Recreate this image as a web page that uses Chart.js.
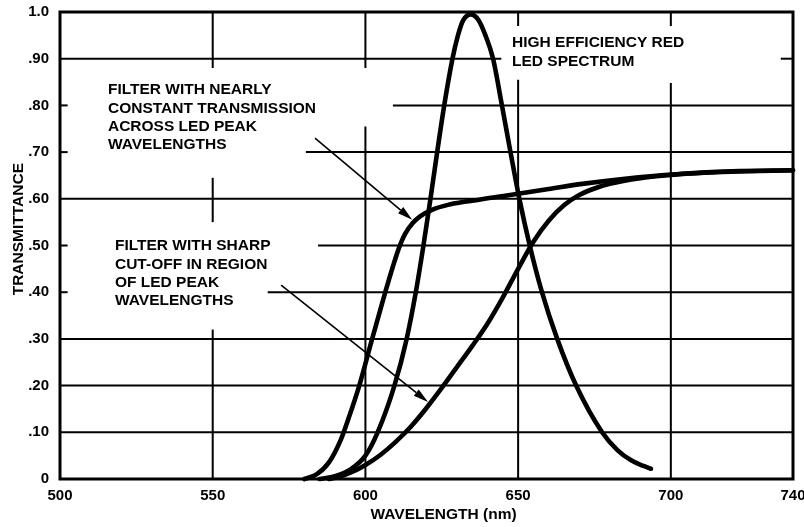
<!DOCTYPE html>
<html>
<head>
<meta charset="utf-8">
<script src="https://cdn.jsdelivr.net/npm/chart.js@4.4.1/dist/chart.umd.min.js"></script>
<style>
  html, body { margin: 0; padding: 0; background: #fff; }
  #wrap { width: 804px; height: 527px; }
</style>
</head>
<body>
<div id="wrap"><canvas id="spectrum" width="804" height="527"></canvas></div>
<script>
// readings: wavelength in nm, transmittance 0..1
const ledX = [585, 590, 595, 600, 604, 609.5, 613.5, 616.5, 619, 621.3, 623.5, 625.8, 628.5, 630.3, 632, 634.5, 637, 639.3, 641.8, 644.7, 647.5, 650.4, 653.8, 657.8, 662.8, 669, 677.5, 682.5, 687, 691, 693.5];
const ledY = [0, 0.006, 0.02, 0.05, 0.1, 0.2, 0.3, 0.4, 0.5, 0.6, 0.7, 0.8, 0.9, 0.95, 0.982, 0.995, 0.983, 0.95, 0.9, 0.8, 0.7, 0.6, 0.5, 0.4, 0.3, 0.2, 0.1, 0.062, 0.04, 0.028, 0.022];

const flatX = [580, 584, 588, 592, 595, 598, 602.2, 606.5, 609, 611, 613, 615.5, 618, 622, 627, 633, 640, 650, 660, 671, 685, 700, 720, 740];
const flatY = [0, 0.01, 0.035, 0.085, 0.14, 0.2, 0.3, 0.4, 0.455, 0.495, 0.525, 0.548, 0.563, 0.577, 0.587, 0.594, 0.601, 0.611, 0.621, 0.632, 0.643, 0.652, 0.658, 0.661];

const sharpX = [588, 592, 596, 600, 605, 610, 615, 620, 625, 630, 635, 640, 645, 650, 655, 660, 665, 670, 675, 680, 690, 700, 710, 720, 740];
const sharpY = [0, 0.006, 0.016, 0.03, 0.052, 0.08, 0.113, 0.152, 0.195, 0.24, 0.285, 0.333, 0.389, 0.45, 0.508, 0.553, 0.586, 0.608, 0.622, 0.632, 0.644, 0.651, 0.656, 0.659, 0.661];

const xTicks = [500, 550, 600, 650, 700, 740];
const yTickLabels = ["0", ".10", ".20", ".30", ".40", ".50", ".60", ".70", ".80", ".90", "1.0"];

// grid is broken around the notes, as on the original sheet: [value, from, to]
const hGrid = [
  [0.1, 500, 740], [0.2, 500, 740], [0.3, 500, 740],
  [0.4, 500, 502.5], [0.4, 568, 740],
  [0.5, 500, 502.5], [0.5, 584.5, 740],
  [0.6, 500, 740],
  [0.7, 500, 502.5], [0.7, 580.5, 740],
  [0.8, 500, 502.5], [0.8, 609, 740],
  [0.9, 500, 644.5], [0.9, 736, 740]
];
const vGrid = [
  [550, 0.88, 1], [550, 0.55, 0.645], [550, 0, 0.32],
  [600, 0.88, 1], [600, 0, 0.755],
  [650, 0.97, 1], [650, 0, 0.855],
  [700, 0.97, 1], [700, 0, 0.848]
];

const notes = [
  { x: 515.7, y: 0.824, lines: ["FILTER WITH NEARLY", "CONSTANT TRANSMISSION", "ACROSS LED PEAK", "WAVELENGTHS"] },
  { x: 518, y: 0.49, lines: ["FILTER WITH SHARP", "CUT-OFF IN REGION", "OF LED PEAK", "WAVELENGTHS"] },
  { x: 648, y: 0.924, lines: ["HIGH EFFICIENCY RED", "LED SPECTRUM"] }
];
const arrows = [
  { from: [583.5, 0.73], to: [615.3, 0.555] },
  { from: [572.4, 0.415], to: [620.5, 0.165] }
];

const FAMILY = "'Liberation Sans', Arial, sans-serif";
const FONT = "bold 15.5px " + FAMILY;

const toPts = (xs, ys) => xs.map((x, i) => ({ x: x, y: ys[i] }));

function seg(ctx, x1, y1, x2, y2) {
  ctx.beginPath();
  ctx.moveTo(x1, y1);
  ctx.lineTo(x2, y2);
  ctx.stroke();
}

const paper = {
  id: "paper",
  beforeDatasetsDraw(chart) {
    const { ctx, chartArea: a } = chart;
    const x = chart.scales.x, y = chart.scales.y;
    ctx.save();
    ctx.strokeStyle = "#000";
    ctx.lineWidth = 2;
    hGrid.forEach(([v, p, q]) => {
      const py = y.getPixelForValue(v);
      seg(ctx, x.getPixelForValue(p), py, x.getPixelForValue(q), py);
    });
    vGrid.forEach(([v, p, q]) => {
      const px = x.getPixelForValue(v);
      seg(ctx, px, y.getPixelForValue(p), px, y.getPixelForValue(q));
    });
    ctx.lineWidth = 3;
    ctx.strokeRect(a.left, a.top, a.right - a.left, a.bottom - a.top);
    ctx.restore();
  },
  afterDatasetsDraw(chart) {
    const { ctx, chartArea: a } = chart;
    const x = chart.scales.x, y = chart.scales.y;
    ctx.save();
    ctx.fillStyle = "#000";
    ctx.strokeStyle = "#000";
    ctx.font = FONT;
    ctx.textBaseline = "alphabetic";
    ctx.textAlign = "left";
    notes.forEach(n => {
      const px = x.getPixelForValue(n.x), py = y.getPixelForValue(n.y);
      n.lines.forEach((t, i) => ctx.fillText(t, px, py + i * 18.4));
    });

    ctx.lineWidth = 1.6;
    arrows.forEach(ar => {
      const x1 = x.getPixelForValue(ar.from[0]), y1 = y.getPixelForValue(ar.from[1]);
      const x2 = x.getPixelForValue(ar.to[0]), y2 = y.getPixelForValue(ar.to[1]);
      const ang = Math.atan2(y2 - y1, x2 - x1);
      const len = 15, half = 4;
      const bx = x2 - len * Math.cos(ang), by = y2 - len * Math.sin(ang);
      seg(ctx, x1, y1, bx, by);
      ctx.beginPath();
      ctx.moveTo(x2, y2);
      ctx.lineTo(bx + half * Math.sin(ang), by - half * Math.cos(ang));
      ctx.lineTo(bx - half * Math.sin(ang), by + half * Math.cos(ang));
      ctx.closePath();
      ctx.fill();
    });

    // axis titles
    ctx.textAlign = "center";
    ctx.fillText("WAVELENGTH (nm)", x.getPixelForValue(625.6), a.bottom + 40);
    ctx.translate(a.left - 37, y.getPixelForValue(0.535));
    ctx.rotate(-Math.PI / 2);
    ctx.fillText("TRANSMITTANCE", 0, 0);
    ctx.restore();
  }
};

const curve = (pts) => ({
  data: pts,
  showLine: true,
  borderColor: "#000",
  backgroundColor: "#000",
  borderWidth: 4.6,
  borderCapStyle: "round",
  borderJoinStyle: "round",
  pointRadius: 0,
  cubicInterpolationMode: "monotone",
  clip: false
});

new Chart(document.getElementById("spectrum").getContext("2d"), {
  type: "scatter",
  data: {
    datasets: [
      curve(toPts(ledX, ledY)),
      curve(toPts(flatX, flatY)),
      curve(toPts(sharpX, sharpY))
    ]
  },
  options: {
    responsive: false,
    animation: false,
    devicePixelRatio: 1,
    layout: { padding: { top: 12, right: 11, left: 0, bottom: 0 } },
    plugins: { legend: { display: false }, tooltip: { enabled: false } },
    scales: {
      x: {
        type: "linear",
        min: 500,
        max: 740,
        grid: { display: false, drawTicks: false },
        border: { display: false },
        afterBuildTicks: (s) => { s.ticks = xTicks.map(v => ({ value: v })); },
        afterFit: (s) => { s.height = 48; s.paddingLeft = 0; s.paddingRight = 0; },
        ticks: {
          color: "#000",
          padding: 8,
          maxRotation: 0,
          autoSkip: false,
          font: { family: FAMILY, size: 15, weight: "bold" }
        }
      },
      y: {
        min: 0,
        max: 1,
        grid: { display: false, drawTicks: false },
        border: { display: false },
        afterFit: (s) => { s.width = 60; s.paddingTop = 0; s.paddingBottom = 0; },
        ticks: {
          stepSize: 0.1,
          color: "#000",
          padding: 11,
          callback: (v, i) => yTickLabels[i],
          font: { family: FAMILY, size: 15, weight: "bold" }
        }
      }
    }
  },
  plugins: [paper]
});
</script>
</body>
</html>
